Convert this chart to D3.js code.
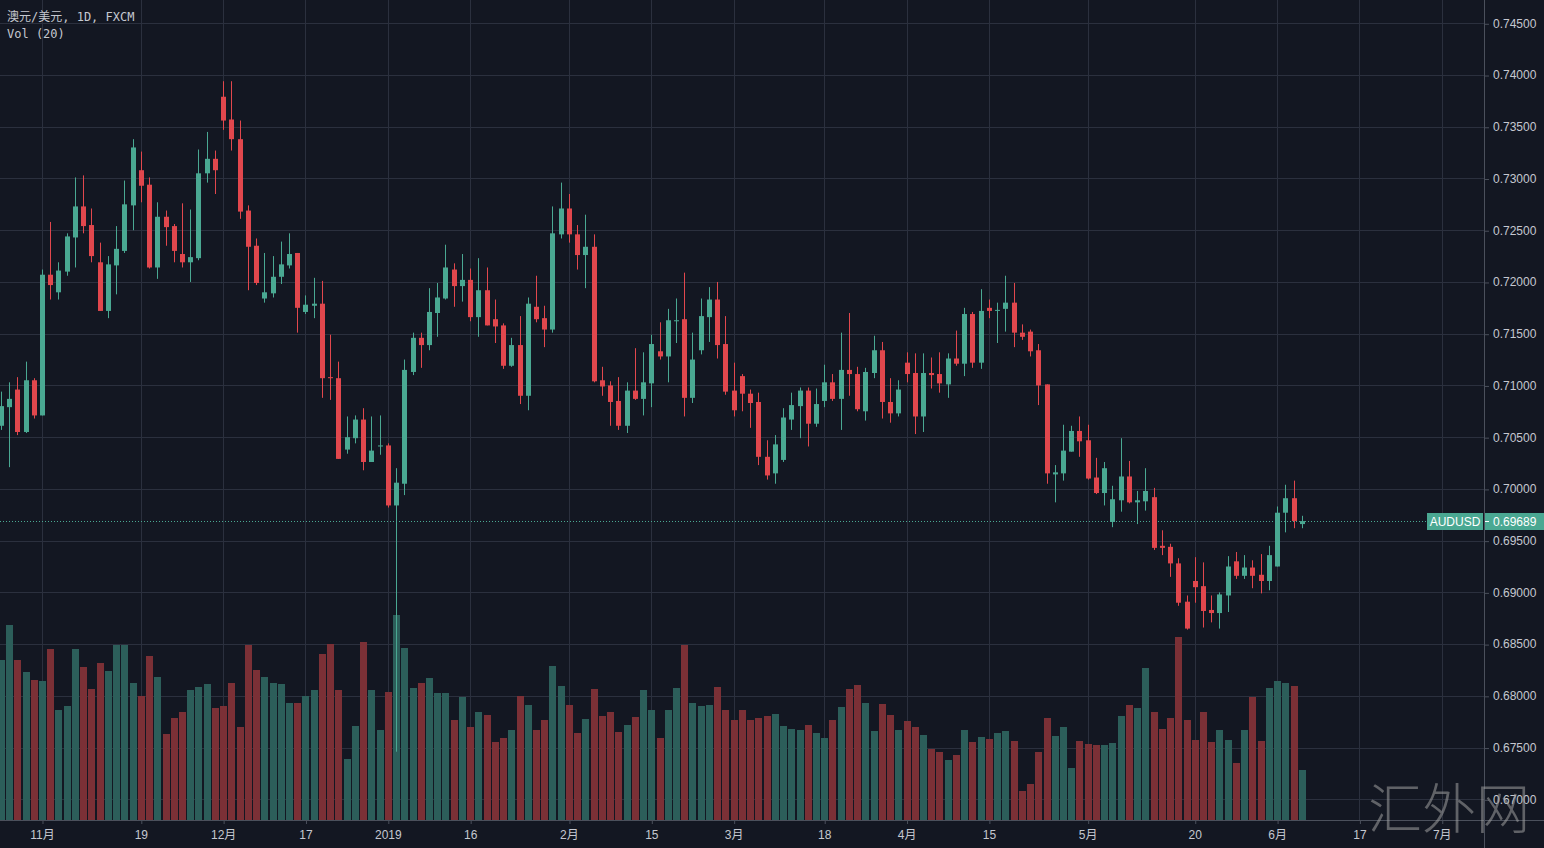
<!DOCTYPE html>
<html>
<head>
<meta charset="utf-8">
<script src="https://cdn.jsdelivr.net/npm/d3@7"></script>
<style>
html, body { margin: 0; padding: 0; background: #131722; overflow: hidden; }
svg { display: block; }
</style>
</head>
<body>
<div id="chart"></div>
<script>
const W = 1544, H = 848;
const paneRight = 1484, paneBottom = 820;

// AUD/USD daily (FXCM), bar 0 = 2018-11-01, first bar on screen = -5
const firstIndex = -5;
const opens = [
  0.7061,0.7079,0.7096,0.7055,0.7105,0.7071,0.7207,0.7190,0.7210,0.7243,
  0.7273,0.7255,0.7219,0.7172,0.7216,0.7230,0.7274,0.7308,0.7294,0.7214,
  0.7263,0.7254,0.7227,0.7219,0.7223,0.7305,0.7319,0.7379,0.7357,0.7338,
  0.7269,0.7235,0.7184,0.7189,0.7205,0.7216,0.7228,0.7171,0.7177,0.7179,
  0.7108,0.7107,0.7038,0.7049,0.7067,0.7026,0.7041,0.7042,0.6984,0.7005,
  0.7113,0.7146,0.7139,0.7170,0.7184,0.7212,0.7196,0.7202,0.7166,0.7192,
  0.7164,0.7158,0.7119,0.7139,0.7090,0.7176,0.7165,0.7154,0.7246,0.7271,
  0.7246,0.7226,0.7234,0.7105,0.7100,0.7085,0.7061,0.7095,0.7087,0.7102,
  0.7133,0.7128,0.7162,0.7164,0.7088,0.7134,0.7166,0.7183,0.7140,0.7095,
  0.7109,0.7092,0.7084,0.7031,0.7015,0.7028,0.7067,0.7080,0.7095,0.7063,
  0.7085,0.7103,0.7087,0.7115,0.7111,0.7075,0.7112,0.7134,0.7084,0.7073,
  0.7122,0.7112,0.7070,0.7112,0.7111,0.7101,0.7126,0.7121,0.7169,0.7122,
  0.7175,0.7172,0.7174,0.7180,0.7151,0.7152,0.7134,0.7101,0.7014,0.7015,
  0.7036,0.7056,0.7047,0.7011,0.6996,0.6968,0.6989,0.7012,0.6987,0.6988,
  0.6992,0.6945,0.6944,0.6928,0.6891,0.6911,0.6906,0.6883,0.6880,0.6897,
  0.6930,0.6916,0.6924,0.6917,0.6911,0.6925,0.6977,0.6991,0.6966
];
const highs = [
  0.7094,0.7103,0.7108,0.7123,0.7107,0.7212,0.7258,0.7219,0.7247,0.7301,
  0.7303,0.7271,0.7238,0.7225,0.7254,0.7298,0.7338,0.7326,0.7301,0.7277,
  0.7269,0.7256,0.7276,0.7270,0.7328,0.7345,0.7327,0.7394,0.7394,0.7356,
  0.7274,0.7242,0.7228,0.7225,0.7239,0.7247,0.7228,0.7187,0.7204,0.7201,
  0.7149,0.7123,0.7070,0.7071,0.7078,0.7070,0.7071,0.7044,0.7020,0.7125,
  0.7151,0.7151,0.7194,0.7199,0.7236,0.7218,0.7227,0.7213,0.7223,0.7214,
  0.7183,0.7160,0.7146,0.7167,0.7185,0.7206,0.7177,0.7273,0.7296,0.7285,
  0.7255,0.7265,0.7246,0.7118,0.7104,0.7108,0.7103,0.7136,0.7132,0.7149,
  0.7161,0.7174,0.7184,0.7209,0.7151,0.7184,0.7195,0.7200,0.7167,0.7122,
  0.7111,0.7096,0.7093,0.7047,0.7052,0.7078,0.7093,0.7098,0.7098,0.7097,
  0.7120,0.7111,0.7151,0.7170,0.7118,0.7117,0.7148,0.7142,0.7107,0.7105,
  0.7132,0.7131,0.7131,0.7127,0.7132,0.7131,0.7153,0.7175,0.7171,0.7193,
  0.7183,0.7180,0.7206,0.7199,0.7159,0.7154,0.7140,0.7101,0.7023,0.7062,
  0.7061,0.7070,0.7062,0.7030,0.7026,0.7003,0.7049,0.7027,0.6998,0.7020,
  0.7001,0.6960,0.6947,0.6933,0.6897,0.6934,0.6929,0.6897,0.6900,0.6935,
  0.6939,0.6936,0.6931,0.6937,0.6945,0.6983,0.7004,0.7008,0.6974
];
const lows = [
  0.7057,0.7021,0.7052,0.7054,0.7068,0.7071,0.7183,0.7183,0.7206,0.7214,
  0.7247,0.7219,0.7172,0.7165,0.7188,0.7228,0.7250,0.7277,0.7213,0.7203,
  0.7235,0.7219,0.7214,0.7200,0.7221,0.7296,0.7285,0.7347,0.7327,0.7261,
  0.7192,0.7197,0.7180,0.7185,0.7198,0.7213,0.7151,0.7169,0.7165,0.7088,
  0.7086,0.7029,0.7034,0.7044,0.7018,0.7026,0.7033,0.6982,0.6746,0.6994,
  0.7110,0.7117,0.7134,0.7147,0.7183,0.7176,0.7181,0.7162,0.7147,0.7158,
  0.7141,0.7116,0.7118,0.7082,0.7076,0.7161,0.7137,0.7151,0.7242,0.7238,
  0.7212,0.7194,0.7103,0.7090,0.7061,0.7057,0.7054,0.7086,0.7071,0.7079,
  0.7125,0.7103,0.7141,0.7070,0.7083,0.7130,0.7142,0.7126,0.7091,0.7070,
  0.7075,0.7059,0.7023,0.7009,0.7005,0.7026,0.7057,0.7049,0.7041,0.7060,
  0.7079,0.7085,0.7057,0.7090,0.7075,0.7066,0.7107,0.7068,0.7064,0.7070,
  0.7103,0.7053,0.7055,0.7097,0.7093,0.7088,0.7119,0.7109,0.7117,0.7116,
  0.7165,0.7141,0.7152,0.7137,0.7144,0.7128,0.7081,0.7005,0.6987,0.7008,
  0.7036,0.7031,0.7009,0.6995,0.6984,0.6963,0.6978,0.6986,0.6966,0.6979,
  0.6941,0.6936,0.6915,0.6887,0.6864,0.6890,0.6866,0.6871,0.6865,0.6881,
  0.6913,0.6913,0.6904,0.6899,0.6902,0.6925,0.6958,0.6962,0.6962
];
const closes = [
  0.7080,0.7087,0.7055,0.7105,0.7071,0.7207,0.7197,0.7211,0.7244,0.7273,
  0.7254,0.7225,0.7172,0.7217,0.7232,0.7275,0.7330,0.7293,0.7214,0.7263,
  0.7253,0.7230,0.7219,0.7224,0.7305,0.7319,0.7308,0.7356,0.7338,0.7268,
  0.7234,0.7199,0.7190,0.7205,0.7217,0.7227,0.7175,0.7178,0.7179,0.7107,
  0.7107,0.7029,0.7050,0.7067,0.7026,0.7037,0.7042,0.6984,0.7006,0.7115,
  0.7146,0.7139,0.7171,0.7185,0.7214,0.7196,0.7202,0.7166,0.7192,0.7158,
  0.7157,0.7119,0.7139,0.7090,0.7179,0.7164,0.7154,0.7247,0.7271,0.7246,
  0.7226,0.7234,0.7104,0.7099,0.7084,0.7061,0.7095,0.7087,0.7103,0.7140,
  0.7128,0.7163,0.7163,0.7088,0.7125,0.7167,0.7183,0.7139,0.7094,0.7076,
  0.7092,0.7083,0.7031,0.7013,0.7043,0.7069,0.7081,0.7095,0.7063,0.7082,
  0.7103,0.7087,0.7115,0.7111,0.7077,0.7113,0.7134,0.7084,0.7073,0.7096,
  0.7111,0.7070,0.7112,0.7110,0.7102,0.7126,0.7121,0.7169,0.7122,0.7172,
  0.7172,0.7173,0.7180,0.7151,0.7147,0.7133,0.7100,0.7015,0.7016,0.7037,
  0.7056,0.7046,0.7010,0.6996,0.7020,0.6990,0.7012,0.6987,0.6989,0.6998,
  0.6943,0.6943,0.6928,0.6890,0.6865,0.6905,0.6882,0.6880,0.6898,0.6925,
  0.6916,0.6924,0.6916,0.6911,0.6936,0.6977,0.6991,0.6969,0.69689
];
// tick volume, relative units
const volumes = [
  160,195,160,148,140,139,171,110,114,171,
  153,131,157,149,175,175,137,124,164,143,
  86,102,108,130,133,136,112,114,137,93,
  175,150,143,137,136,117,117,124,130,166,
  176,130,61,94,178,130,90,128,205,172,
  132,137,142,127,127,100,123,93,108,105,
  78,82,90,124,115,90,100,154,134,115,
  87,101,131,104,108,88,95,103,130,110,
  82,110,132,175,117,114,115,133,110,100,
  110,100,102,104,106,94,91,90,95,87,
  82,100,113,131,135,117,89,116,105,90,
  99,93,85,71,68,60,65,90,78,83,
  81,87,89,79,29,36,68,102,84,93,
  52,79,76,75,75,77,104,115,112,152,
  108,91,102,183,100,80,108,78,90,80,
  57,90,123,79,132,139,137,134,50
];

const timeTickIdx = [0, 12, 22, 32, 42, 52, 64, 74, 84, 95, 105, 115, 127, 140, 150, 160, 170];
const timeTickLabels = ["11月", "19", "12月", "17", "2019", "16", "2月", "15", "3月", "18", "4月", "15", "5月", "20", "6月", "17", "7月"];
const priceTicks = [0.670, 0.675, 0.680, 0.685, 0.690, 0.695, 0.700, 0.705, 0.710, 0.715, 0.720, 0.725, 0.730, 0.735, 0.740, 0.745];
const lastPrice = 0.69689;
const symbol = "AUDUSD";

const upColor = "#4aa892", downColor = "#e1474d";
const upVol = "#2c5e5a", downVol = "#7b3036";
const gridColor = "#2b303e", axisColor = "#4b505c", textColor = "#c5c8d0";

const svg = d3.select("#chart").append("svg")
  .attr("width", W)
  .attr("height", H);

svg.append("rect").attr("width", W).attr("height", H).attr("fill", "#131722");

const x = d3.scaleLinear().domain([-5.1, 175.13]).range([0, paneRight]);
const y = d3.scaleLinear().domain([0.668, 0.74725]).range([paneBottom, 0]);
const yVol = d3.scaleLinear().domain([0, d3.max(volumes)]).range([paneBottom, paneBottom - 205]);

const bars = opens.map((o, k) => ({
  i: k + firstIndex, o: o, h: highs[k], l: lows[k], c: closes[k], v: volumes[k]
}));

svg.append("clipPath").attr("id", "pane")
  .append("rect").attr("width", paneRight).attr("height", paneBottom);

// grid
const grid = svg.append("g").attr("stroke", gridColor).attr("stroke-width", 1);
grid.selectAll(".hg").data(priceTicks).join("line")
  .attr("x1", 0).attr("x2", paneRight)
  .attr("y1", d => Math.round(y(d)) + 0.5).attr("y2", d => Math.round(y(d)) + 0.5);
grid.selectAll(".vg").data(timeTickIdx).join("line")
  .attr("x1", d => Math.round(x(d)) + 0.5).attr("x2", d => Math.round(x(d)) + 0.5)
  .attr("y1", 0).attr("y2", paneBottom);

const pane = svg.append("g").attr("clip-path", "url(#pane)");

// volume
pane.append("g").selectAll("rect").data(bars).join("rect")
  .attr("x", d => Math.round(x(d.i)) - 3)
  .attr("width", 7)
  .attr("y", d => yVol(d.v))
  .attr("height", d => paneBottom - yVol(d.v))
  .attr("fill", d => d.c >= d.o ? upVol : downVol);

// last price dotted line
pane.append("line")
  .attr("x1", 0).attr("x2", 1427)
  .attr("y1", Math.round(y(lastPrice)) + 0.5).attr("y2", Math.round(y(lastPrice)) + 0.5)
  .attr("stroke", upColor).attr("stroke-width", 1).attr("stroke-dasharray", "1,2");

// candles
const candle = pane.append("g").selectAll("g").data(bars).join("g")
  .attr("fill", d => d.c >= d.o ? upColor : downColor)
  .attr("stroke", d => d.c >= d.o ? upColor : downColor);
candle.append("line")
  .attr("x1", d => Math.round(x(d.i)) + 0.5).attr("x2", d => Math.round(x(d.i)) + 0.5)
  .attr("y1", d => y(d.h)).attr("y2", d => y(d.l))
  .attr("stroke-width", 1);
candle.append("rect")
  .attr("stroke", "none")
  .attr("x", d => Math.round(x(d.i)) - 2)
  .attr("width", 5)
  .attr("y", d => Math.min(y(d.o), y(d.c)))
  .attr("height", d => Math.max(1, Math.abs(y(d.o) - y(d.c))));

// axes
const fontStack = "'Liberation Sans', 'Noto Sans CJK SC', sans-serif";

const yAxis = svg.append("g")
  .attr("transform", `translate(${paneRight},0)`)
  .call(d3.axisRight(y).tickValues(priceTicks).tickFormat(d3.format(".5f")).tickSize(5).tickPadding(4));
yAxis.select(".domain").remove();
yAxis.selectAll(".tick line").attr("stroke", axisColor).attr("transform", "translate(0,0.5)");
yAxis.selectAll("text").attr("fill", textColor).style("font", `12px ${fontStack}`);

const xAxis = svg.append("g")
  .attr("transform", `translate(0,${paneBottom})`)
  .call(d3.axisBottom(x).tickValues(timeTickIdx).tickFormat((d, k) => timeTickLabels[k]).tickSize(4).tickPadding(6));
xAxis.select(".domain").remove();
xAxis.selectAll(".tick line").attr("stroke", axisColor).attr("transform", "translate(0.5,0)");
xAxis.selectAll("text").attr("fill", textColor).style("font", `12px ${fontStack}`);

svg.append("line")
  .attr("x1", 0).attr("x2", W).attr("y1", paneBottom + 0.5).attr("y2", paneBottom + 0.5)
  .attr("stroke", axisColor);
svg.append("line")
  .attr("x1", paneRight + 0.5).attr("x2", paneRight + 0.5).attr("y1", 0).attr("y2", H)
  .attr("stroke", axisColor);

// last price labels
const ly = Math.round(y(lastPrice));
svg.append("rect").attr("x", 1427).attr("y", ly - 8).attr("width", 56).attr("height", 17).attr("fill", upColor);
svg.append("text").attr("x", 1455).attr("y", ly + 4.5).attr("text-anchor", "middle")
  .attr("fill", "#ffffff").style("font", `12px ${fontStack}`).text(symbol);
svg.append("rect").attr("x", paneRight + 1).attr("y", ly - 8).attr("width", W - paneRight - 1).attr("height", 17).attr("fill", upColor);
svg.append("line").attr("x1", paneRight + 1).attr("x2", paneRight + 5)
  .attr("y1", ly + 0.5).attr("y2", ly + 0.5).attr("stroke", "#ffffff");
svg.append("text").attr("x", 1493).attr("y", ly + 4.5)
  .attr("fill", "#ffffff").style("font", `12px ${fontStack}`).text(d3.format(".5f")(lastPrice));

// legend
const legendFont = "'DejaVu Sans Mono', 'Noto Sans CJK SC', monospace";
svg.append("text").attr("x", 7).attr("y", 21).attr("fill", textColor)
  .style("font", `12px ${legendFont}`).text("澳元/美元, 1D, FXCM");
svg.append("text").attr("x", 7).attr("y", 38).attr("fill", textColor)
  .style("font", `12px ${legendFont}`).text("Vol (20)");

// watermark
svg.append("text").attr("x", 1368).attr("y", 829)
  .attr("fill", "#a0a0a0").attr("fill-opacity", 0.55)
  .style("font", "300 54px 'Noto Sans CJK SC', sans-serif")
  .text("汇外网");
</script>
</body>
</html>
